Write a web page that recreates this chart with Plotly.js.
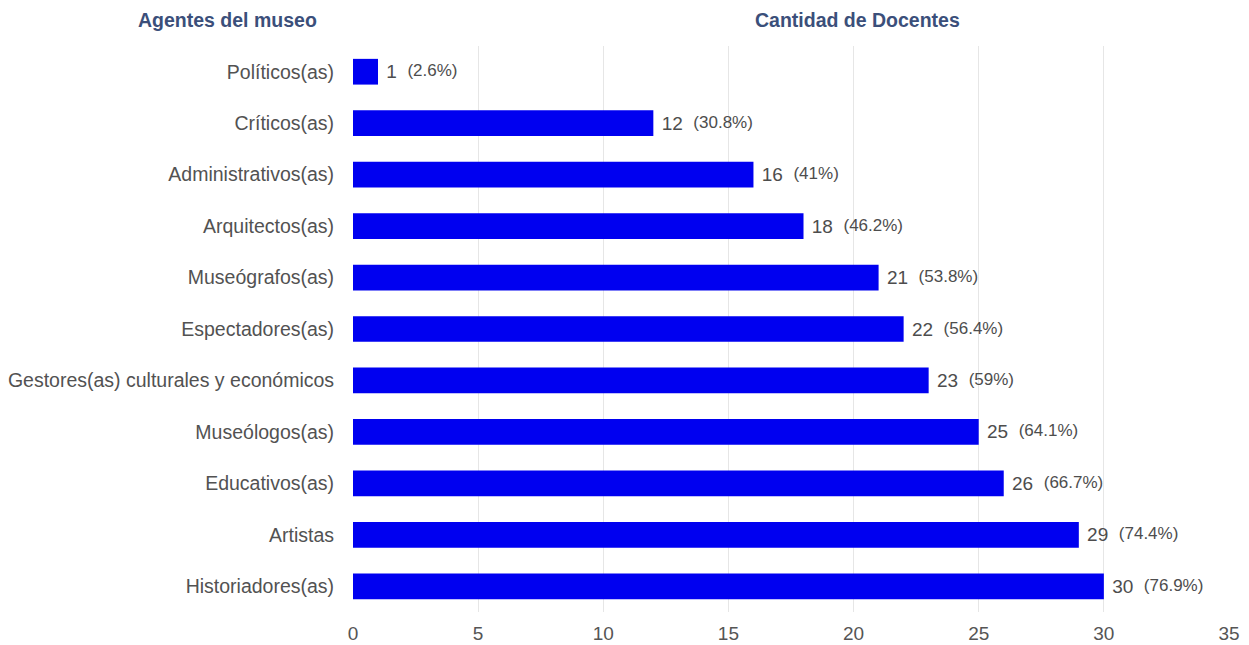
<!DOCTYPE html>
<html>
<head>
<meta charset="utf-8">
<script src="https://cdn.plot.ly/plotly-3.0.1.min.js"></script>
<style>html,body{margin:0;padding:0;background:#fff;}#chart{width:1249px;height:645px;}</style>
</head>
<body>
<div id="chart"></div>
<script>
const categories = ["Políticos(as)", "Críticos(as)", "Administrativos(as)", "Arquitectos(as)", "Museógrafos(as)", "Espectadores(as)", "Gestores(as) culturales y económicos", "Museólogos(as)", "Educativos(as)", "Artistas", "Historiadores(as)"];
const counts = [1, 12, 16, 18, 21, 22, 23, 25, 26, 29, 30];
const percents = ["2.6", "30.8", "41", "46.2", "53.8", "56.4", "59", "64.1", "66.7", "74.4", "76.9"];
const xTicks = [0, 5, 10, 15, 20, 25, 30, 35];

const FONT = '"Liberation Sans", Arial, sans-serif';
const labels = counts.map((v, i) => '\u00a0' + v + '\u00a0 <span style="font-size:17px;baseline-shift:2px">(' + percents[i] + '%)</span>');

const trace = {
  type: 'bar',
  orientation: 'h',
  y: categories,
  x: counts,
  text: labels,
  textposition: 'outside',
  cliponaxis: false,
  textfont: {family: FONT, size: 19, color: '#4d4d4d'},
  marker: {color: '#0000f0'},
  width: 0.5,
  hoverinfo: 'none'
};

const layout = {
  width: 1249, height: 645,
  margin: {l: 353, r: 20, t: 46, b: 33},
  paper_bgcolor: '#fff', plot_bgcolor: '#fff',
  showlegend: false,
  font: {family: FONT, color: '#555'},
  xaxis: {
    range: [0, 35], tickvals: xTicks, ticktext: xTicks.map(String),
    showgrid: true, gridcolor: '#e6e6e6', gridwidth: 1,
    zeroline: false, showline: false,
    ticks: 'outside', ticklen: 4, tickcolor: 'rgba(0,0,0,0)',
    tickfont: {family: FONT, size: 19, color: '#555'},
    fixedrange: true
  },
  yaxis: {
    type: 'category', categoryorder: 'array', categoryarray: categories,
    autorange: 'reversed',
    showgrid: false, zeroline: false, showline: false,
    ticks: 'outside', ticklen: 14, tickcolor: 'rgba(0,0,0,0)',
    tickfont: {family: FONT, size: 19.5, color: '#525252'},
    fixedrange: true
  },
  annotations: [
    {text: '<b>Agentes del museo</b>', xref: 'paper', yref: 'paper', x: -0.1427, y: 1.0, yshift: 26,
     xanchor: 'center', yanchor: 'middle', showarrow: false,
     font: {family: FONT, size: 19.5, color: '#3b4f7a'}},
    {text: '<b>Cantidad de Docentes</b>', xref: 'paper', yref: 'paper', x: 0.576, y: 1.0, yshift: 26,
     xanchor: 'center', yanchor: 'middle', showarrow: false,
     font: {family: FONT, size: 19.5, color: '#3b4f7a'}}
  ]
};

Plotly.newPlot('chart', [trace], layout, {displayModeBar: false, staticPlot: true});
</script>
</body>
</html>
